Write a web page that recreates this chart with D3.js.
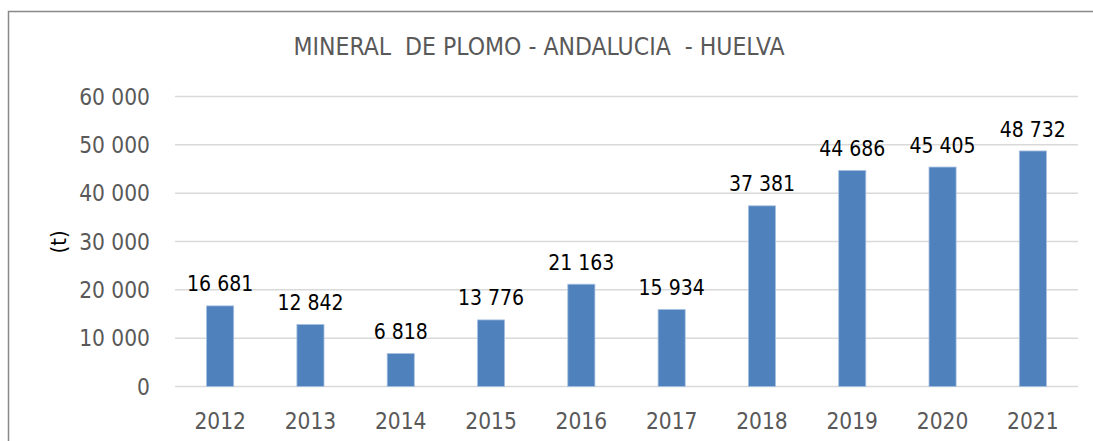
<!DOCTYPE html>
<html>
<head>
<meta charset="utf-8">
<script src="https://cdn.jsdelivr.net/npm/d3@7"></script>
<style>
  body { margin: 0; background: #fff; }
  svg text { font-family: "DejaVu Sans Condensed", "DejaVu Sans", Tahoma, sans-serif; }
</style>
</head>
<body>
<div id="chart-container"></div>
<script>
var years = ["2012", "2013", "2014", "2015", "2016", "2017", "2018", "2019", "2020", "2021"];
var values = [16681, 12842, 6818, 13776, 21163, 15934, 37381, 44686, 45405, 48732];
var y_ticks = [0, 10000, 20000, 30000, 40000, 50000, 60000];
var chart_title = "MINERAL\u00a0\u00a0DE PLOMO - ANDALUCIA\u00a0\u00a0- HUELVA";

var svg_width = 1093;
var svg_height = 441;
var margin = {top: 96.5, right: 15, bottom: 54.5, left: 175};
var width = svg_width - margin.left - margin.right;
var height = svg_height - margin.top - margin.bottom;

var fmt = function(v) { return d3.format(",")(v).replace(/,/g, "\u00a0"); };

var svg = d3.select("#chart-container")
	.append("svg")
	.attr("width", svg_width)
	.attr("height", svg_height);

// outer frame (left + top edges visible)
svg.append("path")
	.attr("d", "M8.5," + svg_height + "V11.5H" + svg_width)
	.attr("fill", "none")
	.attr("stroke", "#898989")
	.attr("stroke-width", 1.5);

var g = svg.append("g")
	.attr("transform", "translate(" + margin.left + "," + margin.top + ")");

var x = d3.scaleBand()
	.domain(years)
	.range([0, width])
	.paddingInner(0.7)
	.paddingOuter(0.35);

var y = d3.scaleLinear()
	.domain([0, 60000])
	.range([height, 0]);

// gridlines
g.selectAll(".grid")
	.data(y_ticks)
	.enter().append("line")
	.attr("class", "grid")
	.attr("x1", 0)
	.attr("x2", width)
	.attr("y1", function(d) { return y(d); })
	.attr("y2", function(d) { return y(d); })
	.attr("stroke", "#d9d9d9")
	.attr("stroke-width", 1.5);

// y labels
g.selectAll(".ylab")
	.data(y_ticks)
	.enter().append("text")
	.attr("class", "ylab")
	.attr("x", -25)
	.attr("y", function(d) { return y(d); })
	.attr("dy", "0.36em")
	.attr("text-anchor", "end")
	.attr("fill", "#595959")
	.style("font-size", "22.5px")
	.text(fmt);

// x labels
g.selectAll(".xlab")
	.data(years)
	.enter().append("text")
	.attr("class", "xlab")
	.attr("x", function(d) { return x(d) + x.bandwidth() / 2; })
	.attr("y", height + 34)
	.attr("dy", "0.36em")
	.attr("text-anchor", "middle")
	.attr("fill", "#595959")
	.style("font-size", "22.5px")
	.text(function(d) { return d; });

// bars
g.selectAll(".bar")
	.data(values)
	.enter().append("rect")
	.attr("class", "bar")
	.attr("x", function(d, i) { return x(years[i]); })
	.attr("y", function(d) { return y(d); })
	.attr("width", x.bandwidth())
	.attr("height", function(d) { return height - y(d); })
	.attr("fill", "#4f81bd")
	.attr("stroke", "#a7c0e0")
	.attr("stroke-width", 0.8);

// value labels
g.selectAll(".vlab")
	.data(values)
	.enter().append("text")
	.attr("class", "vlab")
	.attr("x", function(d, i) { return x(years[i]) + x.bandwidth() / 2; })
	.attr("y", function(d) { return y(d) - 22; })
	.attr("dy", "0.36em")
	.attr("text-anchor", "middle")
	.attr("fill", "#000")
	.style("font-size", "21px")
	.text(fmt);

// title
svg.append("text")
	.attr("x", 539)
	.attr("y", 46)
	.attr("dy", "0.36em")
	.attr("text-anchor", "middle")
	.attr("fill", "#595959")
	.style("font-size", "24.5px")
	.text(chart_title);

// axis title
svg.append("text")
	.attr("transform", "translate(58,242) rotate(-90)")
	.attr("dy", "0.36em")
	.attr("text-anchor", "middle")
	.attr("fill", "#000")
	.style("font-size", "22px")
	.text("(t)");
</script>
</body>
</html>
